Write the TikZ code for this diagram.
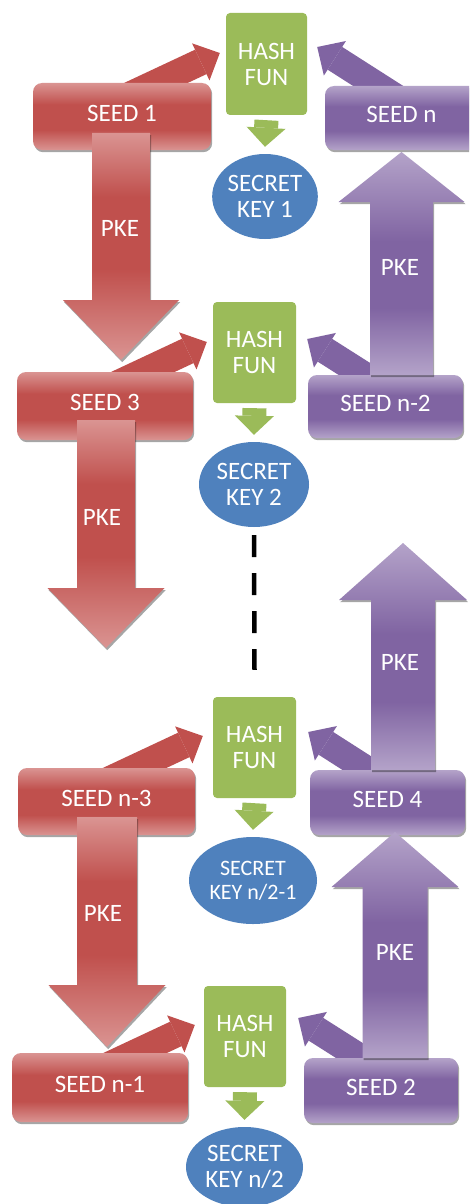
\documentclass[tikz,border=0pt]{standalone}
\usepackage{fontspec}
\setmainfont{Carlito}
\usetikzlibrary{shapes.geometric,arrows.meta,calc,shadows}
\definecolor{redmain}{HTML}{C0504D}
\definecolor{redlight}{HTML}{DA9492}
\definecolor{purpmain}{HTML}{8064A2}
\definecolor{purplight}{HTML}{B4A3C9}
\definecolor{greenmain}{HTML}{9BBB59}
\definecolor{bluemain}{HTML}{4F81BD}
\pgfdeclareverticalshading{seedredsh}{100bp}{color(0bp)=(redlight); color(25bp)=(redlight); color(40bp)=(redmain); color(59bp)=(redmain); color(75bp)=(redlight); color(100bp)=(redlight)}
\pgfdeclareverticalshading{seedpurpsh}{100bp}{color(0bp)=(purplight); color(25bp)=(purplight); color(40bp)=(purpmain); color(59bp)=(purpmain); color(75bp)=(purplight); color(100bp)=(purplight)}
\pgfdeclareverticalshading{pkeredsh}{100bp}{color(0bp)=(redlight); color(25bp)=(redlight); color(45bp)=(redmain); color(61bp)=(redmain); color(75bp)=(redlight); color(100bp)=(redlight)}
\pgfdeclareverticalshading{pkepurpsh}{100bp}{color(0bp)=(purplight); color(25bp)=(purplight); color(40bp)=(purpmain); color(55bp)=(purpmain); color(75bp)=(purplight); color(100bp)=(purplight)}
\newcommand\dlbl{\fontsize{25}{26}\selectfont}
\newcommand\dsmalllbl{\fontsize{22}{24}\selectfont}
% #1 style, #2 x, #3 y base, #4 y head base, #5 y tip, #6 shaft half width, #7 head half width
\newcommand\blockarrow[7]{%
  \path[#1] ({#2-#6},#3) -- ({#2-#6},#4) -- ({#2-#7},#4) -- (#2,#5) -- ({#2+#7},#4)
    -- ({#2+#6},#4) -- ({#2+#6},#3) -- cycle;}
\begin{document}
\begin{tikzpicture}[x=1pt,y=-1pt,
  shd/.style={drop shadow={shadow xshift=1.2pt,shadow yshift=-2.2pt,fill=black,opacity=0.35}},
  seedR/.style={rectangle,rounded corners=9pt,inner sep=0pt,shading=seedredsh,text=white,font=\dlbl,text depth=7pt,shd},
  seedP/.style={rectangle,rounded corners=9pt,inner sep=0pt,shading=seedpurpsh,text=white,font=\dlbl,text depth=7pt,shd},
  hashbox/.style={rectangle,rounded corners=4pt,inner sep=0pt,fill=greenmain,text=white,font=\dlbl,align=center},
  keynode/.style={ellipse,inner sep=0pt,fill=bluemain,text=white,font=\dlbl,align=center},
  pkeR/.style={shading=pkeredsh,shd},
  pkeP/.style={shading=pkepurpsh,shd},
  pkelbl/.style={text=white,font=\dlbl,inner sep=0pt},
  redlink/.style={draw=redmain,line width=27pt,-{Triangle[length=21pt,width=41pt,line width=0pt]}},
  purplink/.style={draw=purpmain,line width=27pt,-{Triangle[length=21pt,width=41pt,line width=0pt]}},
  greenlink/.style={draw=greenmain,line width=24pt,-{Triangle[length=19pt,width=39pt,line width=0pt]}},
  dashlink/.style={draw=black,line width=4.5pt,dash pattern=on 22pt off 16pt}
]
\useasboundingbox (0,0) rectangle (469,1204);
\clip (0,0) rectangle (469,1204);
\fill[white] (0,0) rectangle (469,1204);

% hash boxes (positions first, for the links)
\path
  (266.5,64)   node[hashbox,minimum width=81pt,minimum height=102pt] (hash1) {HASH\\FUN}
  (254.5,352.5) node[hashbox,minimum width=83pt,minimum height=101pt] (hash2) {HASH\\FUN}
  (254.5,747.5) node[hashbox,minimum width=83pt,minimum height=101pt] (hash3) {HASH\\FUN}
  (245,1036.5) node[hashbox,minimum width=82pt,minimum height=101pt] (hash4) {HASH\\FUN};

% seed coordinates (centres) for link starts
\coordinate (c1) at (122,116.5);
\coordinate (cn) at (401.5,118);
\coordinate (c3) at (105,406);
\coordinate (cn2) at (385.5,406.5);
\coordinate (cn3) at (106.5,801.5);
\coordinate (c4) at (387.5,802.5);
\coordinate (cn1) at (100,1087.5);
\coordinate (c2) at (381,1090.5);

% small links seed -> hash (behind the seed boxes)
\draw[redlink]  ($(c1)+(-11,-12.5)$) -- ($(hash1.west)+(-6,-11)$);
\draw[purplink] ($(cn)+(16.5,-6.6)$) -- ($(hash1.east)+(10,-17)$);
\draw[redlink]  ($(c3)+(-7,-13)$) -- ($(hash2.west)+(-6,-10.5)$);
\draw[purplink] ($(cn2)+(22.5,-3.5)$) -- ($(hash2.east)+(11,-13.5)$);
\draw[redlink]  ($(cn3)+(-12.5,-14.5)$) -- ($(hash3.west)+(-10,-11.5)$);
\draw[purplink] ($(c4)+(21.5,-6)$) -- ($(hash3.east)+(12,-15.5)$);
\draw[redlink]  ($(cn1)+(-14,-11.5)$) -- ($(hash4.west)+(-9,-11.5)$);
\draw[purplink] ($(c2)+(18,-8.5)$) -- ($(hash4.east)+(12,-18.5)$);

% seed boxes
\node[seedR,minimum width=178pt,minimum height=67pt] (seed1) at (c1) {SEED 1};
\node[seedP,minimum width=153pt,minimum height=64pt] (seedn) at (cn) {SEED n};
\node[seedR,minimum width=176pt,minimum height=68pt] (seed3) at (c3) {SEED 3};
\node[seedP,minimum width=155pt,minimum height=63pt] (seedn2) at (cn2) {SEED n-2};
\node[seedR,minimum width=177pt,minimum height=67pt] (seedn3) at (cn3) {SEED n-3};
\node[seedP,minimum width=155pt,minimum height=65pt] (seed4) at (c4) {SEED 4};
\node[seedR,minimum width=176pt,minimum height=69pt] (seedn1) at (cn1) {SEED n-1};
\node[seedP,minimum width=154pt,minimum height=65pt] (seed2) at (c2) {SEED 2};

% PKE block arrows
\blockarrow{pkeR}{121}{133}{300}{360}{29}{58}
\blockarrow{pkeR}{106}{420}{588}{648}{29}{58.5}
\blockarrow{pkeR}{107}{817}{985}{1047}{30}{58.5}
\blockarrow{pkeP}{401.5}{375}{202}{152}{31.5}{63}
\blockarrow{pkeP}{403}{770}{600}{543}{32}{64}
\blockarrow{pkeP}{395}{1058}{887}{832}{32.5}{63.5}
\node[pkelbl] (pke1) at (120,228) {PKE};
\node[pkelbl] (pke2) at (102,517) {PKE};
\node[pkelbl] (pke3) at (103,913) {PKE};
\node[pkelbl] (pke4) at (400,267) {PKE};
\node[pkelbl] (pke5) at (400,662) {PKE};
\node[pkelbl] (pke6) at (395,952) {PKE};

% secret keys
\node[keynode,minimum width=104pt,minimum height=85pt] (key1) at (265,196.5) {SECRET\\KEY 1};
\node[keynode,minimum width=110pt,minimum height=85pt] (key2) at (254,484.5) {SECRET\\KEY 2};
\node[keynode,minimum width=128pt,minimum height=87pt,font=\dsmalllbl] (key3) at (253,880.5) {SECRET\\KEY n/2-1};
\node[keynode,minimum width=117pt,minimum height=80pt] (key4) at (244.5,1167) {SECRET\\KEY n/2};

% hash -> key arrows
\draw[greenlink] ($(hash1.south)+(0,5)$) -- ($(key1.north)+(0,-7)$);
\draw[greenlink] ($(hash2.south)+(0,5)$) -- ($(key2.north)+(0,-7)$);
\draw[greenlink] ($(hash3.south)+(0,5)$) -- ($(key3.north)+(0,-7)$);
\draw[greenlink] ($(hash4.south)+(0,5)$) -- ($(key4.north)+(0,-7)$);

% continuation
\draw[dashlink] ($(key2.south)+(0,8)$) -- ($(hash3.north)+(0,-27)$);
\end{tikzpicture}
\end{document}
